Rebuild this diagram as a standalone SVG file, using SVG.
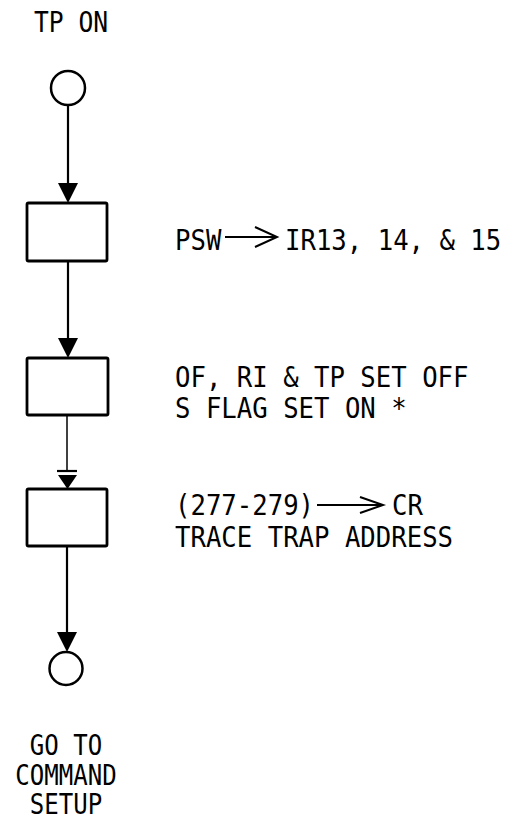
<svg xmlns="http://www.w3.org/2000/svg" width="508" height="821" viewBox="0 0 508 821">
<style>
  .t { font-family: "DejaVu Sans Mono", "Liberation Mono", monospace; font-size: 29px; fill: #000; }
  .b { font-size: 28px; }
  .box { fill: #fff; stroke: #000; stroke-width: 2.8; }
  .term { fill: #fff; stroke: #000; stroke-width: 2.5; }
  .ln { stroke: #000; stroke-width: 2.2; fill: none; }
  .thin { stroke: #000; stroke-width: 1.5; fill: none; }
  .head { fill: #000; stroke: none; }
  .open { stroke: #000; stroke-width: 2; fill: none; stroke-linejoin: miter; }
</style>
<rect width="508" height="821" fill="#fff"/>
<g id="connectors">
  <line class="ln" x1="68" y1="105" x2="68" y2="185"/>
  <polygon class="head" points="58,183 78,183 68,203"/>
  <line class="ln" x1="68" y1="261" x2="68" y2="340"/>
  <polygon class="head" points="58,338 78,338 68,358"/>
  <line class="thin" x1="67" y1="415" x2="67" y2="471"/>
  <line class="ln" x1="57" y1="471" x2="77" y2="471"/>
  <polygon class="head" points="58,475 77,475 67.5,489"/>
  <line class="ln" x1="67" y1="546" x2="67" y2="634"/>
  <polygon class="head" points="57,632 77,632 67,652"/>
</g>
<g id="start">
  <text class="t" transform="translate(34,32) scale(0.85,1)">TP ON</text>
  <circle class="term" cx="68" cy="88" r="17"/>
</g>
<g id="step1">
  <rect class="box" x="27" y="203" width="80" height="58" rx="1.5"/>
  <text class="t" transform="translate(175,250) scale(0.885,1)">PSW</text>
  <line class="open" x1="225" y1="237" x2="276" y2="237"/>
  <polyline class="open" points="255,227 277,237 255,247"/>
  <text class="t" transform="translate(285,250) scale(0.885,1)">IR13, 14, &amp; 15</text>
</g>
<g id="step2">
  <rect class="box" x="27" y="358" width="81" height="57" rx="1.5"/>
  <text class="t" transform="translate(175,387) scale(0.885,1)">OF, RI &amp; TP SET OFF</text>
  <text class="t" transform="translate(175,418) scale(0.885,1)">S FLAG SET ON *</text>
</g>
<g id="step3">
  <rect class="box" x="27" y="489" width="80" height="57" rx="1.5"/>
  <text class="t" transform="translate(175,515) scale(0.885,1)">(277-279)</text>
  <line class="open" x1="317" y1="505" x2="382" y2="505"/>
  <polyline class="open" points="360,497 383,505 360,513"/>
  <text class="t" transform="translate(392,515) scale(0.885,1)">CR</text>
  <text class="t" transform="translate(175,547) scale(0.885,1)">TRACE TRAP ADDRESS</text>
</g>
<g id="end">
  <circle class="term" cx="66" cy="668.5" r="16.5"/>
  <text class="t b" transform="translate(66,0) scale(0.86,1)" text-anchor="middle"><tspan x="0" y="755">GO TO</tspan><tspan x="0" y="785">COMMAND</tspan><tspan x="0" y="814">SETUP</tspan></text>
</g>
</svg>
